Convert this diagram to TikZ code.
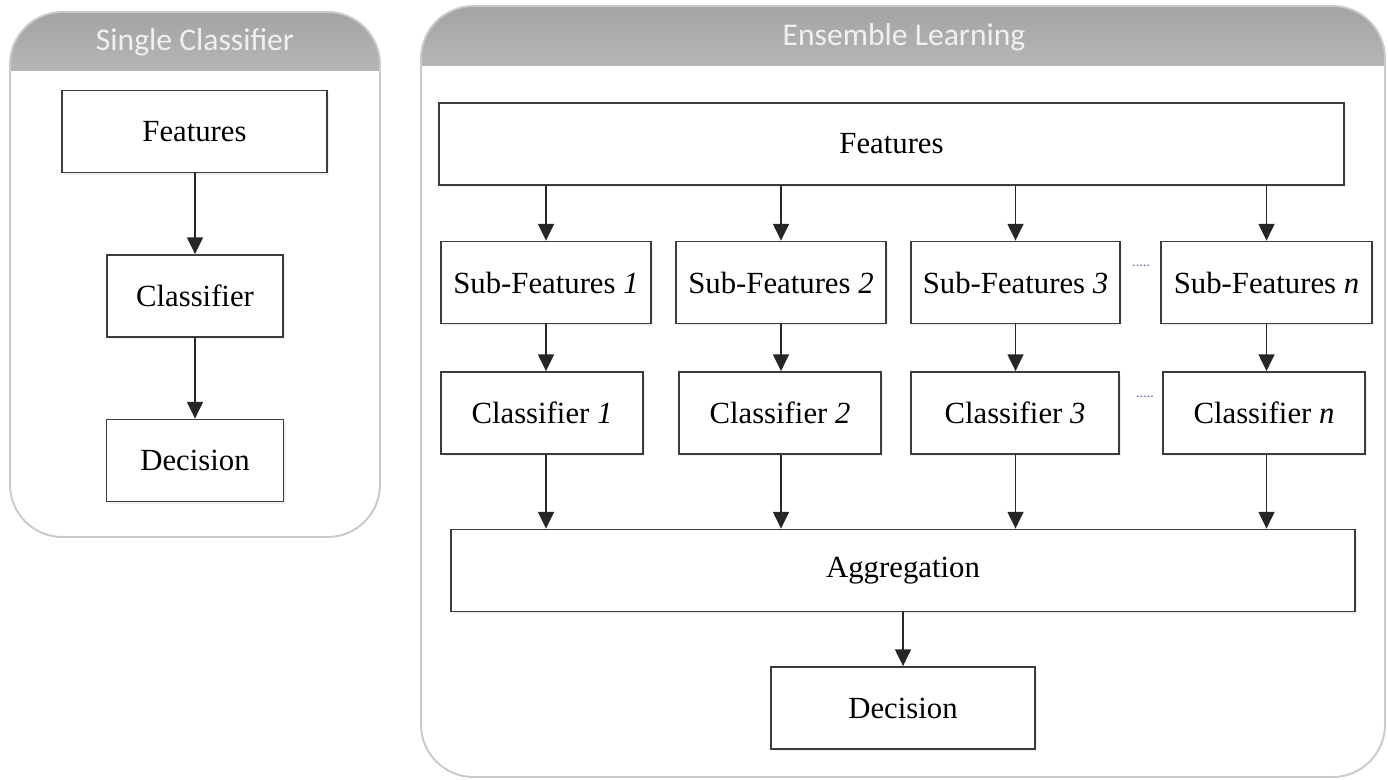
\documentclass[tikz,border=0pt]{standalone}
\usepackage{fontspec}
\setmainfont{Liberation Serif}
\newfontfamily\headfont{Carlito}
\usepackage{xcolor}
\usepackage{tikz}
\usetikzlibrary{arrows.meta, positioning, shadows}

\definecolor{hdtop}{HTML}{A3A3A3}
\definecolor{hdbot}{HTML}{B6B6B6}
\definecolor{panelline}{HTML}{CACACA}
\definecolor{boxline}{HTML}{3C3C3C}

\begin{document}
\begin{tikzpicture}[
    x=0.02cm, y=-0.02cm,
    block/.style={
        rectangle, draw=boxline, line width=1pt, fill=white,
        minimum height=1.64cm, inner sep=0pt,
        font=\fontsize{17.5}{20}\selectfont,
        drop shadow={opacity=0.12, shadow xshift=1.2pt, shadow yshift=-1.2pt}
    },
    panel/.style={draw=panelline, line width=1.1pt, rounded corners=1.05cm},
    head/.style={font=\headfont\fontsize{18}{20}\selectfont, text=white!94!black},
    arrow/.style={-{Triangle[length=9.5pt, width=9pt]}, line width=1pt, black!85},
    dots/.style={font=\fontsize{8}{8}\selectfont, text=gray!70!blue, inner sep=0pt},
]
\useasboundingbox (0,0) rectangle (1388,780);

% Pannelli con intestazione
\begin{scope}
    \clip[rounded corners=1.05cm] (10,12) rectangle (380,537);
    \shade[top color=hdtop, bottom color=hdbot] (10,12) rectangle (380,71);
\end{scope}
\begin{scope}
    \clip[rounded corners=1.05cm] (421,6) rectangle (1385,777);
    \shade[top color=hdtop, bottom color=hdbot] (421,6) rectangle (1385,66);
\end{scope}
\draw[panel] (10,12) rectangle (380,537);
\draw[panel] (421,6) rectangle (1385,777);

\node[head] (singlehd) at (195,42) {Single Classifier};
\node[head] (enshd)    at (904,37) {Ensemble Learning};

%% Single Classifier
\node[block, minimum width=5.3cm]  (feat) at (194.5,131.5) {Features};
\node[block, minimum width=3.52cm] (clf)  at (195,296)     {Classifier};
\node[block, minimum width=3.54cm] (dec)  at (195,460.5)   {Decision};

\draw[arrow] (clf.north |- feat.south) -- (clf.north);
\draw[arrow] (clf.south) -- (dec.north);

%% Ensemble Learning
\node[block, minimum width=18.1cm] (efeat) at (891.5,144) {Features};

\node[block, minimum width=4.2cm]  (sf1) at (546,282.5)    {Sub-Features \textit{1}};
\node[block, minimum width=4.2cm]  (sf2) at (781,282.5)    {Sub-Features \textit{2}};
\node[block, minimum width=4.18cm] (sf3) at (1015.5,282.5) {Sub-Features \textit{3}};
\node[block, minimum width=4.22cm] (sfn) at (1266.5,282.5) {Sub-Features \textit{n}};

\node[block, minimum width=4.04cm] (c1) at (542,413)  {Classifier \textit{1}};
\node[block, minimum width=4.04cm] (c2) at (780,413)  {Classifier \textit{2}};
\node[block, minimum width=4.16cm] (c3) at (1015,413) {Classifier \textit{3}};
\node[block, minimum width=4.04cm] (cn) at (1264,413) {Classifier \textit{n}};

\node[dots] (dotsf) at (1141,266) {.....};
\node[dots] (dotsc) at (1145,397) {.....};

\node[block, minimum width=18.08cm] (agg)  at (903,570.5) {Aggregation};
\node[block, minimum width=5.28cm]  (edec) at (903,708)   {Decision};

\foreach \s/\c in {sf1/c1, sf2/c2, sf3/c3, sfn/cn}{
    \draw[arrow] (\s.north |- efeat.south) -- (\s.north);
    \draw[arrow] (\s.south) -- (\s.south |- \c.north);
    \draw[arrow] (\s.south |- \c.south) -- (\s.south |- agg.north);
}
\draw[arrow] (agg.south) -- (edec.north);
\end{tikzpicture}
\end{document}
